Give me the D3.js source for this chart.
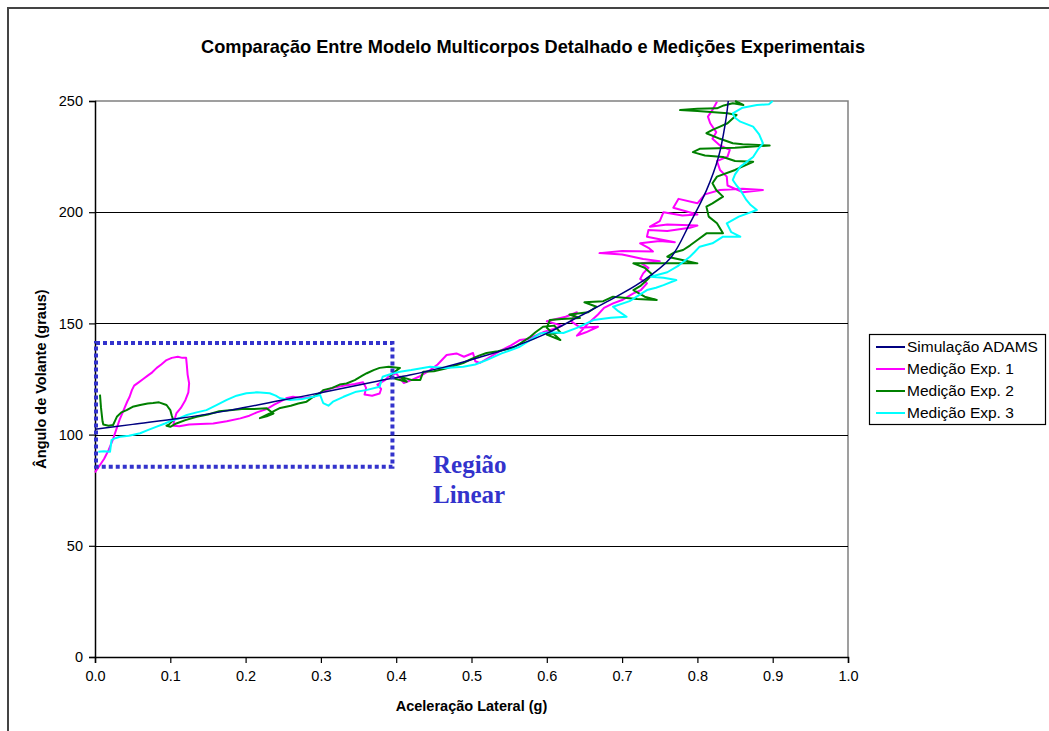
<!DOCTYPE html>
<html>
<head>
<meta charset="utf-8">
<script src="https://cdn.jsdelivr.net/npm/d3@7"></script>
<style>
html,body{margin:0;padding:0;background:#fff;}
svg{display:block;font-family:"Liberation Sans",Arial,sans-serif;}
</style>
</head>
<body>
<svg id="chart" width="1049" height="731"></svg>
<script>
const chartTitle = "Comparação Entre Modelo Multicorpos Detalhado e Medições Experimentais";
const xTitle = "Aceleração Lateral (g)";
const yTitle = "Ângulo de Volante (graus)";
const xTicks = [0,0.1,0.2,0.3,0.4,0.5,0.6,0.7,0.8,0.9,1.0];
const yTicks = [0,50,100,150,200,250];
const seriesNames = ["Simulação ADAMS","Medição Exp. 1","Medição Exp. 2","Medição Exp. 3"];
const seriesColors = ["#000080","#ff00ff","#008000","#00ffff"];
const regionLabel = ["Região","Linear"];
const regionBox = {x0:0.0, x1:0.395, y0:85.5, y1:141.2};

const simAdams = [[0,102.4],[0.05,104.6],[0.113,107.3],[0.18,111],[0.246,115.3],[0.3,118.8],[0.378,124.2],[0.418,126.8],[0.46,130],[0.511,134.8],[0.56,140],[0.6,145.5],[0.644,153.3],[0.68,159.8],[0.724,168.3],[0.764,179.3],[0.79,195],[0.812,209.8],[0.828,224.8],[0.837,239.8],[0.841,250]];

const exp1 = [[0.000,83],[0.006,86],[0.012,89],[0.018,93],[0.024,98],[0.029,103],[0.033,107],[0.038,111],[0.043,115],[0.046,117],[0.049,120],[0.052,122],[0.058,123.5],[0.064,125],[0.070,126.5],[0.076,128],[0.082,130],[0.088,131.5],[0.095,133.5],[0.102,134.5],[0.110,135],[0.116,134.5],[0.121,134.5],[0.122,131],[0.123,127],[0.125,123],[0.124,119],[0.120,115.5],[0.114,112],[0.108,109.5],[0.105,106],[0.104,104],[0.112,103.8],[0.125,104.5],[0.140,104.8],[0.157,105],[0.175,106],[0.193,107.3],[0.205,108.5],[0.215,110],[0.228,111.5],[0.238,113.5],[0.246,114.8],[0.255,116.5],[0.263,117],[0.275,116.5],[0.29,117],[0.30,119],[0.316,121],[0.33,122],[0.345,122.8],[0.356,123.5],[0.36,121],[0.358,118],[0.368,117.5],[0.378,118.5],[0.38,120.5],[0.375,122.5],[0.385,124.5],[0.392,126.8],[0.40,127.5],[0.41,123.2],[0.42,124.5],[0.43,126],[0.445,129],[0.455,131.5],[0.467,135.8],[0.48,136.5],[0.49,135],[0.502,136.7],[0.505,133],[0.511,132.2],[0.525,135],[0.54,138],[0.552,140],[0.564,142.5],[0.575,143],[0.585,144.5],[0.595,146],[0.609,147.5],[0.62,149],[0.60,151],[0.625,153],[0.64,155],[0.632,151],[0.645,148],[0.668,148.5],[0.652,146],[0.64,144.5],[0.655,150],[0.668,154],[0.676,157],[0.688,159],[0.70,160.5],[0.715,163.5],[0.725,165],[0.733,168],[0.724,170],[0.728,172.5],[0.735,175],[0.726,177],[0.75,178],[0.728,179],[0.70,181],[0.67,181.6],[0.70,182.5],[0.741,182.3],[0.735,184],[0.724,186],[0.75,187],[0.77,186.5],[0.733,189],[0.735,192],[0.76,191.5],[0.79,193],[0.80,194],[0.76,194.5],[0.737,193.5],[0.75,196],[0.755,200],[0.78,198.5],[0.80,199],[0.768,202],[0.775,206],[0.80,204],[0.81,208],[0.83,210],[0.86,210.5],[0.887,210],[0.86,209],[0.84,212],[0.839,216],[0.83,219],[0.826,223],[0.84,225],[0.843,228],[0.83,230],[0.82,233],[0.825,236],[0.817,240],[0.814,243],[0.82,246],[0.826,249.7]];

const exp2 = [[0.0066,118],[0.008,112],[0.010,106],[0.011,104.5],[0.018,104],[0.024,104.3],[0.027,106.5],[0.029,108],[0.035,110],[0.042,111],[0.05,112.5],[0.06,113.3],[0.07,114],[0.077,114.2],[0.085,114.5],[0.095,113.3],[0.1,111],[0.102,108.5],[0.104,106.5],[0.098,104.5],[0.095,104],[0.10,103.5],[0.108,105],[0.12,106.5],[0.135,108],[0.15,109],[0.165,110.5],[0.179,111],[0.195,111.5],[0.21,111.5],[0.228,111.8],[0.237,109.5],[0.228,108.2],[0.219,107.4],[0.232,109.5],[0.24,111],[0.246,112],[0.26,113],[0.27,114],[0.281,114.8],[0.29,117],[0.3,119],[0.303,120],[0.315,121],[0.325,122.5],[0.334,123],[0.345,124.5],[0.355,126.5],[0.361,127.6],[0.37,129],[0.378,130],[0.39,130.5],[0.405,130],[0.395,127.5],[0.392,126],[0.40,125],[0.414,123.8],[0.405,126],[0.42,124.6],[0.432,124.6],[0.436,128.3],[0.45,128.5],[0.467,129.8],[0.478,131],[0.489,132.2],[0.50,134],[0.51,135.5],[0.52,136.7],[0.535,137.5],[0.555,139],[0.565,141],[0.578,144],[0.585,146],[0.595,148.5],[0.61,149],[0.618,146],[0.6,145],[0.618,142.5],[0.60,148],[0.604,151.5],[0.62,152],[0.644,152.4],[0.63,154],[0.655,155],[0.666,157.5],[0.65,159.5],[0.675,160],[0.688,162],[0.72,161],[0.746,160.5],[0.73,162],[0.715,165],[0.725,167],[0.733,169.5],[0.74,172],[0.73,175],[0.715,177],[0.75,177],[0.80,177],[0.78,178.5],[0.76,180],[0.77,182],[0.781,183],[0.79,185],[0.80,187.5],[0.812,190.5],[0.834,190.5],[0.826,195],[0.815,198],[0.812,202.5],[0.82,204],[0.834,207],[0.825,210],[0.82,213],[0.826,216],[0.85,219],[0.874,222.7],[0.85,223],[0.834,224.8],[0.81,225.5],[0.794,227],[0.803,228.5],[0.85,229],[0.896,230],[0.86,230.5],[0.847,231],[0.83,233],[0.812,235.5],[0.82,237],[0.83,238.5],[0.84,240],[0.852,243.7],[0.84,244.5],[0.80,245.5],[0.777,245.9],[0.80,246.5],[0.826,246.7],[0.835,248],[0.847,249],[0.861,248.2],[0.85,250]];

const exp3 = [[0.0044,92.3],[0.012,92.5],[0.02,92.3],[0.021,95],[0.022,97.6],[0.028,98.5],[0.033,99],[0.045,99.5],[0.06,100.6],[0.07,102],[0.082,103.6],[0.093,105],[0.104,106.6],[0.113,107.5],[0.122,108.8],[0.135,110],[0.148,111],[0.16,113],[0.175,115.6],[0.188,117.5],[0.201,118.6],[0.215,119],[0.232,118.6],[0.24,117.5],[0.246,116.3],[0.259,115.6],[0.275,116],[0.29,117],[0.299,117.8],[0.303,114.2],[0.31,113],[0.316,114.8],[0.33,117],[0.347,119.3],[0.36,120],[0.378,121.5],[0.38,124],[0.382,126],[0.395,127.5],[0.405,128.3],[0.42,129],[0.445,130.5],[0.465,130],[0.489,130.5],[0.505,131.5],[0.52,133.5],[0.54,136.5],[0.564,139.5],[0.578,142.5],[0.591,145.5],[0.605,146],[0.622,145.7],[0.64,148],[0.662,151.5],[0.685,152.5],[0.706,153],[0.695,155.5],[0.688,157.5],[0.71,160],[0.733,165],[0.745,166],[0.755,167.2],[0.772,169.5],[0.755,170.5],[0.738,171],[0.76,173],[0.775,176],[0.79,180],[0.796,182],[0.803,184.5],[0.82,186],[0.834,189],[0.857,189],[0.845,191],[0.839,195],[0.855,198],[0.879,201],[0.87,203.5],[0.865,205.5],[0.857,210],[0.852,212],[0.847,214.5],[0.85,217],[0.857,220.5],[0.865,222.5],[0.874,224.8],[0.88,228],[0.887,231],[0.882,235],[0.874,238.5],[0.857,240.7],[0.85,242.5],[0.847,244.4],[0.86,247],[0.879,248.2],[0.895,248.5],[0.9,250]];

const allSeries = [simAdams, exp1, exp2, exp3];

const svg = d3.select("#chart");
const L = 95, R = 848, T = 101, B = 657;
const x = d3.scaleLinear().domain([0,1]).range([L,R]);
const y = d3.scaleLinear().domain([0,250]).range([B,T]);
const SANS = "'Liberation Sans',Arial,sans-serif";
const SERIF = "'Liberation Serif','Times New Roman',serif";

// outer chart border
svg.append("path").attr("d","M8,740 L8,8 L1060,8").attr("fill","none").attr("stroke","#444").attr("stroke-width",2);

// title
svg.append("text").attr("x",533).attr("y",53).attr("text-anchor","middle")
  .style("font-family",SANS).attr("font-size",18.2).attr("font-weight","bold").text(chartTitle);

// plot border (top/right gray)
svg.append("path").attr("d",`M${L},${T} L${R},${T} L${R},${B}`).attr("fill","none").attr("stroke","#808080").attr("stroke-width",1.5);

// gridlines
svg.append("g").selectAll("line").data(yTicks.filter(d=>d>0 && d<250)).join("line")
  .attr("x1",L).attr("x2",R).attr("y1",d=>Math.round(y(d))+0.5).attr("y2",d=>Math.round(y(d))+0.5)
  .attr("stroke","#000").attr("stroke-width",1.2);

// axes
const yAxis = d3.axisLeft(y).tickValues(yTicks).tickSize(6).tickPadding(6).tickFormat(d3.format("d"));
const gy = svg.append("g").attr("transform",`translate(${L},0)`).call(yAxis);
const xAxis = d3.axisBottom(x).tickValues(xTicks).tickSize(6).tickPadding(8).tickFormat(d3.format(".1f"));
const gx = svg.append("g").attr("transform",`translate(0,${B})`).call(xAxis);
[gx,gy].forEach(g=>{
  g.select(".domain").attr("stroke","#000").attr("stroke-width",1.5);
  g.selectAll(".tick line").attr("stroke","#000").attr("stroke-width",1.2);
  g.selectAll(".tick text").style("font-family",SANS).attr("font-size",14.5).attr("fill","#000");
});

// axis titles
svg.append("text").attr("x",x(0.5)).attr("y",711).attr("text-anchor","middle")
  .style("font-family",SANS).attr("font-size",14.5).attr("font-weight","bold").text(xTitle);
svg.append("text").attr("transform",`translate(46,${y(125)}) rotate(-90)`).attr("text-anchor","middle")
  .style("font-family",SANS).attr("font-size",14.5).attr("font-weight","bold").text(yTitle);

// series
const line = d3.line().x(d=>x(d[0])).y(d=>y(d[1]));
const smooth = d3.line().x(d=>x(d[0])).y(d=>y(d[1])).curve(d3.curveCatmullRom);
const gS = svg.append("g");
[1,2,3].forEach(i=>{
  gS.append("path").datum(allSeries[i]).attr("d",line).attr("fill","none")
    .attr("stroke",seriesColors[i]).attr("stroke-width",2).attr("stroke-linejoin","round");
});
gS.append("path").datum(allSeries[0]).attr("d",smooth).attr("fill","none")
  .attr("stroke",seriesColors[0]).attr("stroke-width",1.5);

// linear region box
svg.append("rect").attr("x",x(regionBox.x0)+1).attr("y",y(regionBox.y1))
  .attr("width",x(regionBox.x1)-x(regionBox.x0)-1).attr("height",y(regionBox.y0)-y(regionBox.y1))
  .attr("fill","none").attr("stroke","#3333cc").attr("stroke-width",4).attr("stroke-dasharray","4,3");

svg.append("g").selectAll("text").data(regionLabel).join("text")
  .attr("x",433).attr("y",(d,i)=>473+i*30)
  .style("font-family",SERIF)
  .attr("font-size",25).attr("font-weight","bold").attr("fill","#3333cc").text(d=>d);

// legend
const lg = svg.append("g");
lg.append("rect").attr("x",869.5).attr("y",334.5).attr("width",176).attr("height",90)
  .attr("fill","#fff").attr("stroke","#000").attr("stroke-width",1.2);
seriesNames.forEach((n,i)=>{
  const yy = 347 + i*22;
  lg.append("line").attr("x1",876).attr("x2",905).attr("y1",yy).attr("y2",yy)
    .attr("stroke",seriesColors[i]).attr("stroke-width",2);
  lg.append("text").attr("x",907).attr("y",yy+5).style("font-family",SANS).attr("font-size",15.5).text(n);
});
</script>
</body>
</html>
